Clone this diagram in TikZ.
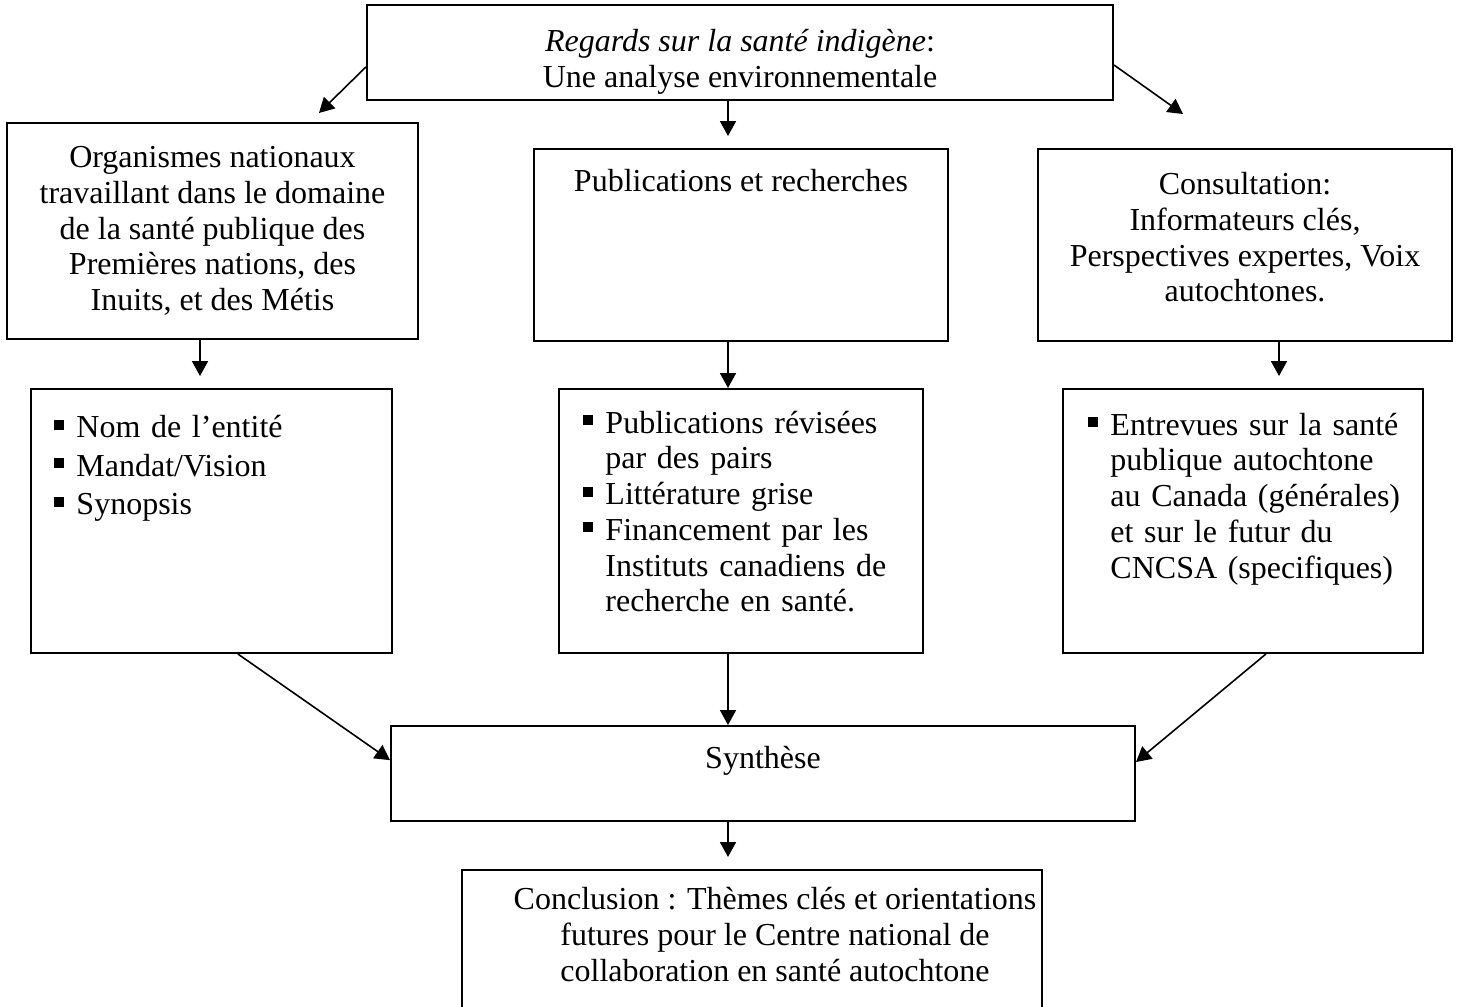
\documentclass[tikz,border=0pt]{standalone}
\usepackage{fontspec}
\setmainfont{Liberation Serif}
\usetikzlibrary{arrows.meta,positioning}

% carre noir des listes
\newcommand{\puce}{\par\noindent\llap{\makebox[8.6pt][l]{\rule[3pt]{4pt}{3.8pt}}}}

\begin{document}
\begin{tikzpicture}[
    x=0.375pt, y=-0.375pt,
    font=\fontsize{12}{13.4}\selectfont,
    box/.style={draw,line width=0.75pt,inner sep=0pt},
    txt/.style={inner sep=0pt,align=center,anchor=north},
    liste/.style={inner sep=0pt,anchor=north west,text width=#1,
                  execute at begin node={\raggedright\leftskip=8.6pt\parindent=0pt}},
    arr/.style={-{Triangle[length=5.6pt,width=6pt]},line width=0.6pt},
]
\useasboundingbox (0,0) rectangle (1461,1007);

% Titre
\node[box,minimum width=279.75pt,minimum height=35.6pt] (regards) at (740,52.5) {};
\node[txt] (regardstxt) at (740,29)
  {\textit{Regards sur la santé indigène}:\\Une analyse environnementale};

% Trois sources
\node[box,minimum width=154.1pt,minimum height=81pt] (orgs) at (212.5,231) {};
\node[txt] (orgstxt) at (212.5,146)
  {Organismes nationaux\\travaillant dans le domaine\\de la santé publique des\\
   Premières nations, des\\Inuits, et des Métis};

\node[box,minimum width=155.25pt,minimum height=72pt] (pubs) at (741,245) {};
\node[txt] (pubstxt) at (741,169) {Publications et recherches};

\node[box,minimum width=155.25pt,minimum height=72pt] (consult) at (1245,245) {};
\node[txt] (consulttxt) at (1245,172)
  {Consultation:\\Informateurs clés,\\Perspectives expertes, Voix\\autochtones.};

% Listes
\node[box,minimum width=135.4pt,minimum height=99pt] (listorgs) at (211.5,521) {};
\node[liste=127pt,font=\fontsize{12}{14.4}\selectfont] (listorgstxt) at (53,399)
  {\puce Nom de l'entité\puce Mandat/Vision\puce Synopsis};

\node[box,minimum width=136.5pt,minimum height=99pt] (listpubs) at (741,521) {};
\node[liste=128pt] (listpubstxt) at (582,397)
  {\puce Publications révisées\\par des pairs
   \puce Littérature grise
   \puce Financement par les\\Instituts canadiens de\\recherche en santé.};

\node[box,minimum width=135pt,minimum height=99pt] (listconsult) at (1243,521) {};
\node[liste=126pt] (listconsulttxt) at (1087,399)
  {\puce Entrevues sur la santé\\publique autochtone\\au Canada (générales)\\
   et sur le futur du\\CNCSA (specifiques)};

% Synthese et conclusion
\node[box,minimum width=279pt,minimum height=35.6pt] (synth) at (763,773.5) {};
\node[txt] (synthtxt) at (763,746) {Synthèse};

\node[box,minimum width=217.5pt,minimum height=54.4pt] (concl) at (752,942.5) {};
\node[txt] (concltxt) at (775,887)
  {Conclusion : Thèmes clés et orientations\\futures pour le Centre national de\\
   collaboration en santé autochtone};

% Fleches
\coordinate (axe)  at (728,0);
\coordinate (axeG) at (200,0);
\coordinate (axeD) at (1279,0);
\coordinate (tipL) at (319,113);
\coordinate (tipR) at (1183,114);

\draw[arr] ([yshift=-5.4pt]regards.west) -- (tipL);
\draw[arr] ([yshift=-4.7pt]regards.east) -- (tipR);
\draw[arr,shorten >=4.5pt] (regards.south -| axe) -- (pubs.north -| axe);

\draw[arr,shorten >=4.5pt] (orgs.south -| axeG) -- (listorgs.north -| axeG);
\draw[arr] (pubs.south -| axe) -- (listpubs.north -| axe);
\draw[arr,shorten >=4.5pt] (consult.south -| axeD) -- (listconsult.north -| axeD);

\draw[arr] ([xshift=9.9pt]listorgs.south) -- ([yshift=5pt]synth.west);
\draw[arr] (listpubs.south -| axe) -- (synth.north -| axe);
\draw[arr] ([xshift=8.6pt]listconsult.south) -- ([yshift=4.3pt]synth.east);

\draw[arr,shorten >=4.5pt] (synth.south -| axe) -- (concl.north -| axe);

\end{tikzpicture}
\end{document}
